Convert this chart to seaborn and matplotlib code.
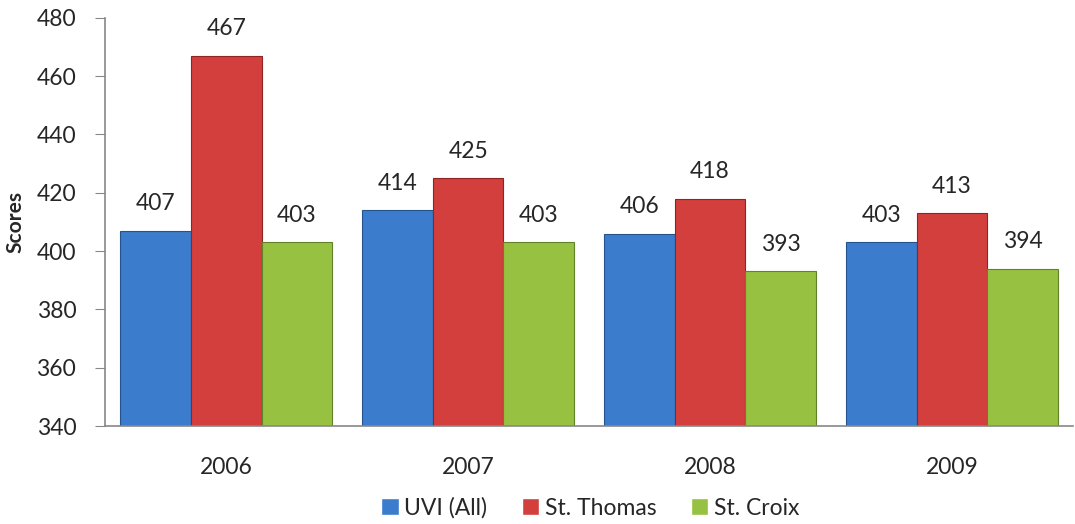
import seaborn as sns
import matplotlib.pyplot as plt
import pandas as pd

# values
years = ['2006', '2007', '2008', '2009']
uvi_all = [407, 414, 406, 403]
st_thomas = [467, 425, 418, 413]
st_croix = [403, 403, 393, 394]
campuses = ['UVI (All)', 'St. Thomas', 'St. Croix']

df = pd.DataFrame({
    'Year': years * 3,
    'Campus': [c for c in campuses for _ in years],
    'Score': uvi_all + st_thomas + st_croix,
})

colors = ['#3c7ccc', '#d23f3d', '#97c141']
edges = ['#25538f', '#8f2423', '#62822a']

sns.set_style('white')
plt.rcParams['font.family'] = ['Lato', 'DejaVu Sans']
fs = 16.5

fig = plt.figure(figsize=(10.75, 5.24), dpi=100)
ax = fig.add_axes([0.098, 0.187, 0.900, 0.779])

sns.barplot(data=df, x='Year', y='Score', hue='Campus', hue_order=campuses,
            palette=colors, saturation=1, width=0.875, gap=0, ax=ax, legend=True)

for i, cont in enumerate(ax.containers):
    for bar in cont:
        bar.set_edgecolor(edges[i])
        bar.set_linewidth(0.8)
    ax.bar_label(cont, fmt='%d', padding=12, fontsize=fs)

ax.set_ylim(340, 480)
ax.set_yticks(range(340, 481, 20))
ax.set_xlim(-0.5, 3.5)
ax.set_xlabel('')
ax.set_ylabel('Scores', fontsize=15, fontweight='bold', labelpad=8)
ax.tick_params(axis='y', labelsize=fs, length=7, pad=14, color='#888888', direction='out', left=True)
ax.tick_params(axis='x', labelsize=fs, length=0, pad=22)

for side in ['top', 'right']:
    ax.spines[side].set_visible(False)
for side in ['left', 'bottom']:
    ax.spines[side].set_color('#888888')
    ax.spines[side].set_linewidth(1.2)

handles, labels = ax.get_legend_handles_labels()
ax.legend_.remove()
fig.legend(handles, labels, loc='center', bbox_to_anchor=(0.549, 0.031),
           ncol=3, frameon=False, fontsize=fs, handlelength=0.75, handleheight=0.75,
           handletextpad=0.25, columnspacing=1.5)

fig.savefig('out.png', dpi=100)
